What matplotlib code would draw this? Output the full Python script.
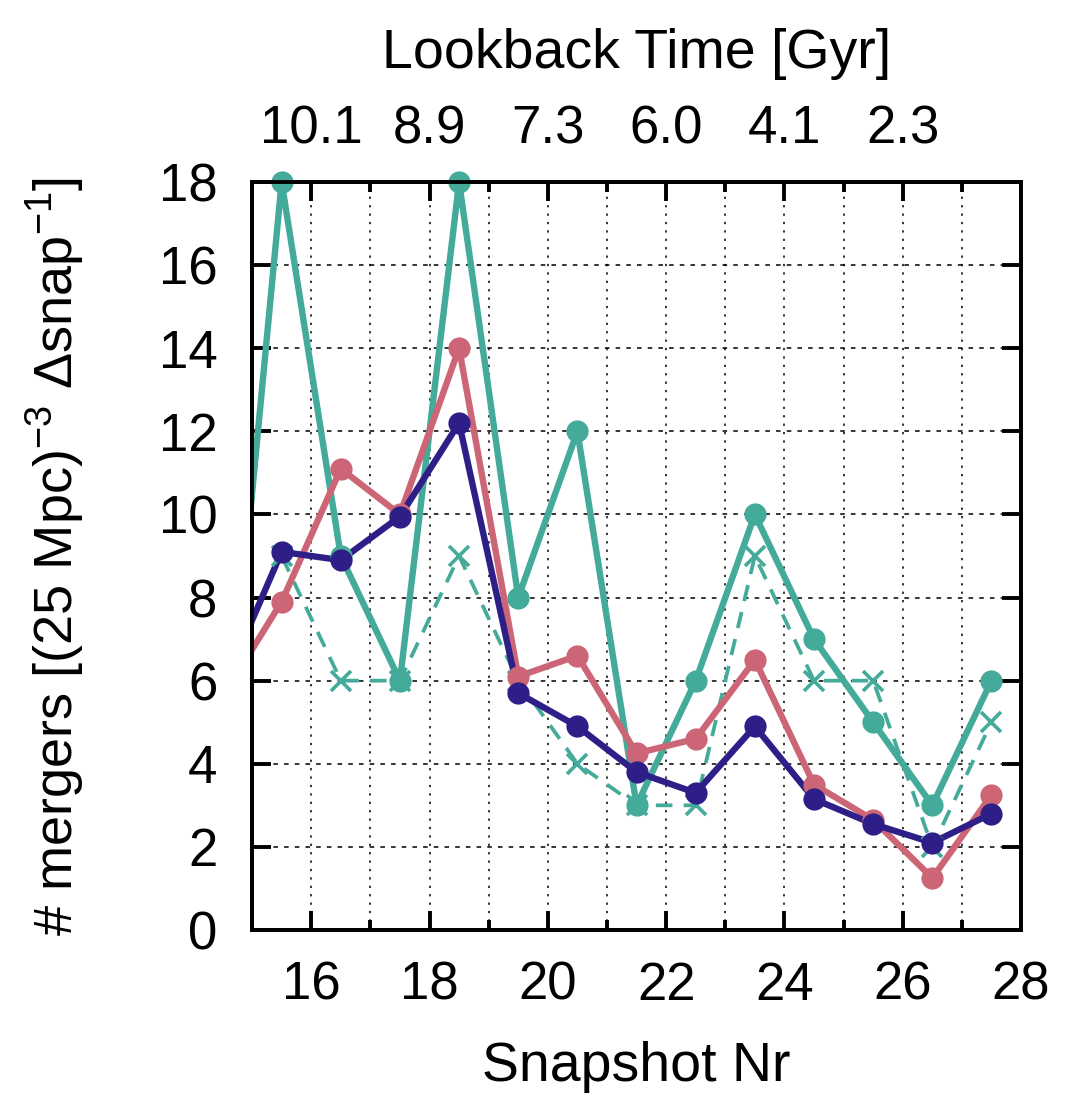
import numpy as np
import matplotlib
matplotlib.use('Agg')
import matplotlib.pyplot as plt
from matplotlib.ticker import MultipleLocator

plt.rcParams['font.family'] = ['Liberation Sans', 'DejaVu Sans']
plt.rcParams['mathtext.fontset'] = 'custom'
plt.rcParams['mathtext.rm'] = 'Liberation Sans'
plt.rcParams['mathtext.it'] = 'Liberation Sans'

# snapshot centres (first one sits left of the visible range)
snap = [14.5, 15.5, 16.5, 17.5, 18.5, 19.5, 20.5, 21.5, 22.5, 23.5, 24.5, 25.5, 26.5, 27.5]

teal_solid = [3, 18, 9, 6, 18, 8, 12, 3, 6, 10, 7, 5, 3, 6]
teal_dash = [6, 9, 6, 6, 9, 6, 4, 3, 3, 9, 6, 6, 2, 5]
rose = [5.6, 7.9, 11.1, 10.0, 14.0, 6.1, 6.6, 4.25, 4.6, 6.5, 3.5, 2.65, 1.25, 3.25]
indigo = [5.8, 9.1, 8.9, 9.95, 12.2, 5.7, 4.9, 3.8, 3.3, 4.9, 3.15, 2.55, 2.1, 2.8]

top_ticks = [16, 18, 20, 22, 24, 26]
top_labels = ['10.1', '8.9', '7.3', '6.0', '4.1', '2.3']

c_teal = '#44aa99'
c_rose = '#cc6677'
c_indigo = '#2e1f88'

fs_tick = 38
fs_lab = 40
bw = 2.8

fig = plt.figure(figsize=(10.79, 11.07), dpi=100)
ax = fig.add_axes([0.2336, 0.1599, 0.7127, 0.6757])

x = np.array(snap)
vis = x > 15

def draw(y, color, ls='-', lw=4.6, marker='o', ms=16, mew=0):
    y = np.array(y)
    ax.plot(x, y, ls=ls, lw=lw, color=color, zorder=3)
    ax.plot(x[vis], y[vis], ls='none', marker=marker, ms=ms, color=color,
            mew=mew, clip_on=False, zorder=4)

# dashed teal with crosses first, others drawn over it
draw(teal_dash, c_teal, ls=(0, (4.4, 3.0)), lw=2.7, marker='x', ms=15, mew=2.6)
draw(teal_solid, c_teal)
draw(rose, c_rose)
draw(indigo, c_indigo)

ax.set_xlim(15, 28)
ax.set_ylim(0, 18)
ax.xaxis.set_major_locator(MultipleLocator(2))
ax.xaxis.set_minor_locator(MultipleLocator(1))
ax.yaxis.set_major_locator(MultipleLocator(2))

ax.grid(which='both', axis='x', color='black', ls=(0, (1.5, 4)), lw=1.1)
ax.grid(which='major', axis='y', color='black', ls=(0, (3, 4)), lw=1.1)
ax.set_axisbelow(True)

for s in ax.spines.values():
    s.set_linewidth(bw)

ax.tick_params(which='major', direction='in', length=14, width=bw,
               labelsize=fs_tick, top=False, right=True, pad=22)
ax.tick_params(which='minor', direction='in', length=7, width=bw,
               top=False, right=True)
ax.tick_params(axis='y', pad=25)

ax.set_xlabel('Snapshot Nr', fontsize=fs_lab, labelpad=22)
ax.set_ylabel('# mergers [(25 Mpc)$^{-3}$ Δsnap$^{-1}$]', fontsize=39, labelpad=52)

# lookback time along the top
ax2 = ax.twiny()
ax2.set_xlim(ax.get_xlim())
ax2.set_xticks(top_ticks + [28])
ax2.set_xticklabels(top_labels + [''])
ax2.xaxis.set_minor_locator(MultipleLocator(1))
ax2.tick_params(which='major', direction='in', length=14, width=bw,
                labelsize=fs_tick, pad=20)
ax2.tick_params(which='minor', direction='in', length=7, width=bw)
ax2.set_xlabel('Lookback Time [Gyr]', fontsize=fs_lab, labelpad=26)
for s in ax2.spines.values():
    s.set_linewidth(bw)

fig.savefig('out.png', dpi=100)
